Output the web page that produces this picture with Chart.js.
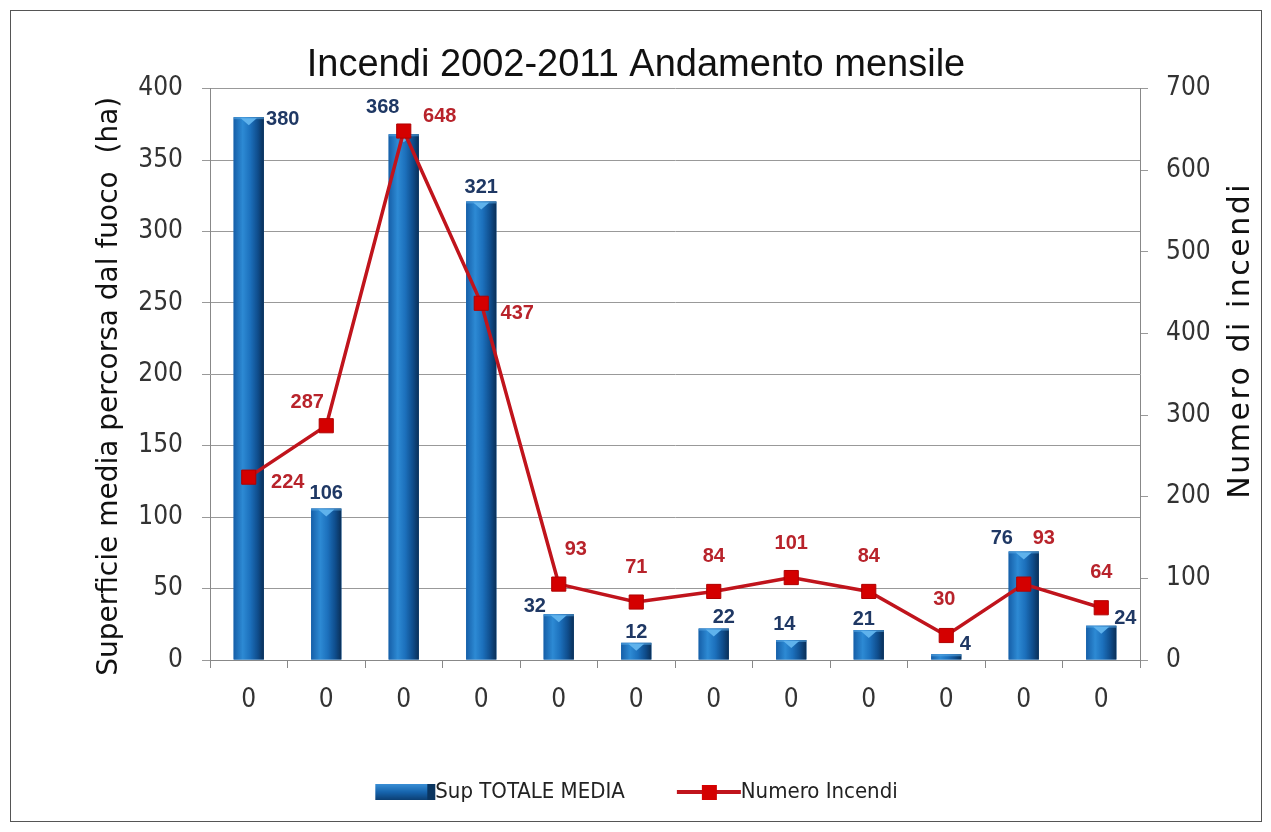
<!DOCTYPE html>
<html>
<head>
<meta charset="utf-8">
<title>Incendi 2002-2011</title>
<script src="https://cdn.jsdelivr.net/npm/chart.js@4.4.0/dist/chart.umd.min.js"></script>
<style>
  body { margin: 0; background: #fff; }
  #frame { position: absolute; left: 10px; top: 10px; width: 1250px; height: 810px; border: 1px solid #555; }
  canvas { display: block; }
</style>
</head>
<body>
<div id="frame"><canvas id="chartCanvas" width="1250" height="810"></canvas></div>
<script>
// dati
const mesi = ['0', '0', '0', '0', '0', '0', '0', '0', '0', '0', '0', '0'];
const superficie = [380, 106, 368, 321, 32, 12, 22, 14, 21, 4, 76, 24];
const numeroIncendi = [224, 287, 648, 437, 93, 71, 84, 101, 84, 30, 93, 64];
const tickSinistra = [0, 50, 100, 150, 200, 250, 300, 350, 400];
const tickDestra = [0, 100, 200, 300, 400, 500, 600, 700];

// posizione delle etichette rispetto al punto (dx, dy)
const offBarre = [[34, 2], [0, -15], [-21, -27], [0, -14], [-24, -8], [0, -10], [10, -11], [-7, -16], [-5, -11], [19, -10], [-22, -13], [24, -7]];
const offLinea = [[39, 5], [-19, -23], [36, -15], [36, 10], [17, -35], [0, -35], [0, -35], [0, -34], [0, -35], [-2, -36], [20, -46], [0, -35]];

const fontAssi = '"DejaVu Sans Condensed", "DejaVu Sans", sans-serif';
const rosso = '#c0141c';

function gradBlu(ctx, l, r) {
  const g = ctx.createLinearGradient(l, 0, r, 0);
  g.addColorStop(0, '#165fa8');
  g.addColorStop(0.3, '#2d8ad4');
  g.addColorStop(0.55, '#1c70bc');
  g.addColorStop(0.8, '#0f4d8c');
  g.addColorStop(1, '#0a2f57');
  return g;
}

// icone della legenda
const iconaBarra = document.createElement('canvas');
iconaBarra.width = 80; iconaBarra.height = 18;
{
  const c = iconaBarra.getContext('2d');
  const g = c.createLinearGradient(0, 1, 0, 17);
  g.addColorStop(0, '#3a8fd6');
  g.addColorStop(0.5, '#1765ae');
  g.addColorStop(1, '#0c3f73');
  c.fillStyle = g;
  c.fillRect(16, 1, 60, 16);
  c.fillStyle = '#0a3560';
  c.fillRect(68, 1, 8, 16);
}
const iconaLinea = document.createElement('canvas');
iconaLinea.width = 80; iconaLinea.height = 18;
{
  const c = iconaLinea.getContext('2d');
  c.strokeStyle = rosso; c.lineWidth = 4;
  c.beginPath(); c.moveTo(12, 9); c.lineTo(76, 9); c.stroke();
  c.fillStyle = '#d40000';
  c.fillRect(37, 2, 15, 15);
}

const cilindro = {
  id: 'cilindro',
  afterDatasetDraw(chart, args) {
    if (args.index !== 0) return;
    const ctx = chart.ctx;
    ctx.save();
    args.meta.data.forEach(bar => {
      const {x, y, base, width} = bar.getProps(['x', 'y', 'base', 'width'], true);
      const l = x - width / 2, r = x + width / 2, h = base - y;
      ctx.fillStyle = gradBlu(ctx, l, r);
      ctx.fillRect(l, y, width, h);
      // tappo superiore con triangolo chiaro
      ctx.fillStyle = 'rgba(90,170,230,0.55)';
      ctx.fillRect(l, y, width, Math.min(2, h));
      if (h > 8) {
        ctx.fillStyle = '#5fb2ec';
        ctx.beginPath();
        ctx.moveTo(x - 8, y + 1);
        ctx.lineTo(x + 8, y + 1);
        ctx.lineTo(x, y + 8);
        ctx.closePath();
        ctx.fill();
      }
    });
    ctx.restore();
  }
};

const etichette = {
  id: 'etichette',
  afterDatasetsDraw(chart) {
    const ctx = chart.ctx;
    ctx.save();
    ctx.font = 'bold 20px "Liberation Sans", Arial, sans-serif';
    ctx.textAlign = 'center';
    ctx.textBaseline = 'middle';
    chart.getDatasetMeta(0).data.forEach((el, i) => {
      ctx.fillStyle = '#1f3864';
      ctx.fillText(superficie[i], el.x + offBarre[i][0], el.y + offBarre[i][1]);
    });
    chart.getDatasetMeta(1).data.forEach((el, i) => {
      ctx.fillStyle = '#b8232b';
      ctx.fillText(numeroIncendi[i], el.x + offLinea[i][0], el.y + offLinea[i][1]);
    });
    ctx.restore();
  }
};

// titoli degli assi, entrambi letti dal basso verso l'alto
const titoliAssi = {
  id: 'titoliAssi',
  afterDraw(chart) {
    const ctx = chart.ctx;
    const a = chart.chartArea;
    ctx.save();
    ctx.fillStyle = '#111';
    ctx.textAlign = 'center';
    ctx.textBaseline = 'middle';
    ctx.font = '28px "DejaVu Sans", sans-serif';
    ctx.translate(99, (a.top + a.bottom) / 2 + 12);
    ctx.rotate(-Math.PI / 2);
    ctx.fillText('Superficie media percorsa dal fuoco  (ha)', 0, 0);
    ctx.restore();
    ctx.save();
    ctx.fillStyle = '#111';
    ctx.textAlign = 'center';
    ctx.textBaseline = 'middle';
    ctx.font = '30px "DejaVu Sans", sans-serif';
    ctx.letterSpacing = '2.5px';
    ctx.translate(1230, (a.top + a.bottom) / 2 - 34);
    ctx.rotate(-Math.PI / 2);
    ctx.fillText('Numero di incendi', 0, 0);
    ctx.restore();
  }
};

Chart.defaults.font.family = fontAssi;
Chart.defaults.color = '#333';

const chart = new Chart(document.getElementById('chartCanvas'), {
  type: 'bar',
  data: {
    labels: mesi,
    datasets: [{
      label: 'Sup TOTALE MEDIA',
      data: superficie,
      yAxisID: 'y',
      backgroundColor: '#1b6cb6',
      barPercentage: 0.39,
      categoryPercentage: 1,
      order: 1
    }, {
      type: 'line',
      label: 'Numero Incendi',
      data: numeroIncendi,
      yAxisID: 'y1',
      borderColor: rosso,
      borderWidth: 3.5,
      pointStyle: 'rect',
      pointRadius: 10,
      pointBackgroundColor: '#d40000',
      pointBorderColor: '#b00000',
      pointBorderWidth: 1,
      tension: 0,
      order: 0
    }]
  },
  options: {
    responsive: false,
    animation: false,
    layout: { padding: { left: 0, right: 0, top: 0, bottom: 8 } },
    plugins: {
      title: {
        display: true,
        text: 'Incendi 2002-2011 Andamento mensile',
        color: '#111',
        font: { family: '"Liberation Sans", Arial, sans-serif', size: 38, weight: 'normal' },
        padding: { top: 32, bottom: 0 }
      },
      legend: {
        position: 'bottom',
        labels: {
          usePointStyle: true,
          pointStyleWidth: 50,
          padding: 55,
          color: '#222',
          font: { family: '"Liberation Sans Narrow", "DejaVu Sans Condensed", sans-serif', size: 22 },
          generateLabels: () => [
            { text: 'Sup TOTALE MEDIA', pointStyle: iconaBarra, fillStyle: '#1b6cb6', strokeStyle: '#1b6cb6', lineWidth: 0, hidden: false, datasetIndex: 0, fontColor: '#222' },
            { text: 'Numero Incendi', pointStyle: iconaLinea, fillStyle: rosso, strokeStyle: rosso, lineWidth: 0, hidden: false, datasetIndex: 1, fontColor: '#222' }
          ]
        }
      },
      tooltip: { enabled: false }
    },
    scales: {
      x: {
        grid: { display: true, drawOnChartArea: false, tickLength: 8, color: '#888', offset: true },
        border: { color: '#888' },
        ticks: { padding: 17, color: '#333', font: { size: 26 } },
        afterFit: s => { s.height = 66; }
      },
      y: {
        position: 'left',
        min: tickSinistra[0],
        max: tickSinistra[tickSinistra.length - 1],
        ticks: { stepSize: tickSinistra[1] - tickSinistra[0], padding: 19, color: '#333', font: { size: 26 } },
        grid: { color: '#999', tickLength: 8 },
        border: { color: '#888' },
        afterFit: s => { s.width = 199; }
      },
      y1: {
        position: 'right',
        min: tickDestra[0],
        max: tickDestra[tickDestra.length - 1],
        ticks: { stepSize: tickDestra[1] - tickDestra[0], padding: 18, color: '#333', font: { size: 26 } },
        grid: { drawOnChartArea: false, color: '#999', tickLength: 8 },
        border: { color: '#888' },
        afterFit: s => { s.width = 121; }
      }
    }
  },
  plugins: [cilindro, etichette, titoliAssi]
});
</script>
</body>
</html>
